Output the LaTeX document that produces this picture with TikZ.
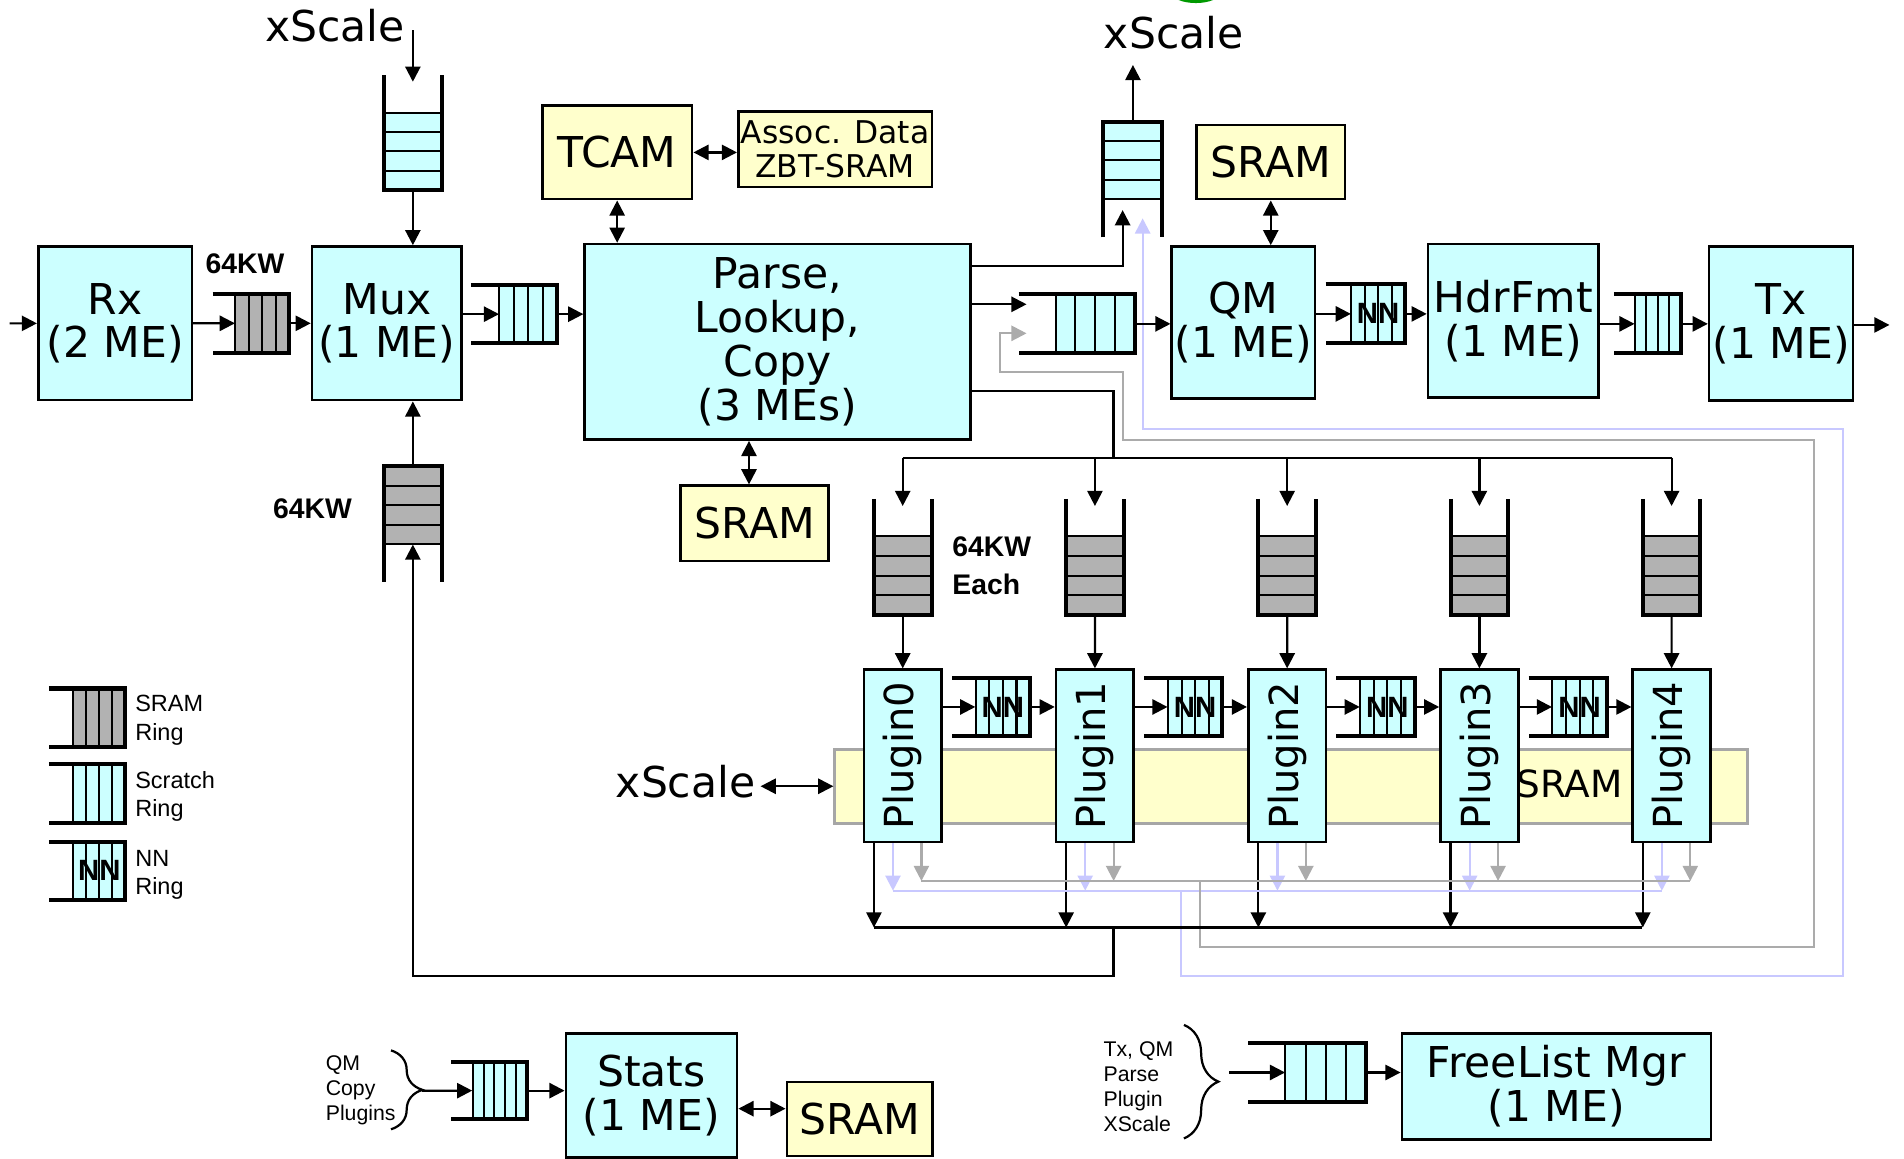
\documentclass[tikz,border=0pt]{standalone}
\usepackage{fontspec}
\usepackage{graphicx}
\setmainfont{DejaVu Sans}
\newfontfamily\arialf{Liberation Sans}
\usetikzlibrary{arrows.meta,decorations.pathreplacing,fit,backgrounds}
\definecolor{cyanbox}{HTML}{CCFFFF}
\definecolor{yelbox}{HTML}{FFFFCC}
\definecolor{ringgray}{HTML}{B2B2B2}
\definecolor{lav}{HTML}{C8C8FF}
\definecolor{lgray}{HTML}{ABABAB}
\definecolor{bandedge}{HTML}{A6A6A6}
\newcommand\bigf{\fontsize{21}{21.6}\selectfont}
\newcommand\midf{\fontsize{15.5}{16.5}\selectfont}
\newcommand\plf{\fontsize{19.8}{21}\selectfont}
\newcommand\bandf{\fontsize{18.5}{20}\selectfont}
\newcommand\kwf{\arialf\bfseries\fontsize{14}{16}\selectfont}
\newcommand\legf{\arialf\fontsize{11.6}{14}\selectfont}
\newcommand\smallf{\arialf\fontsize{10.5}{12.6}\selectfont}
\newcommand\nnf{\arialf\bfseries\fontsize{14.5}{15}\selectfont}
\tikzset{
  box/.style={draw=black, line width=1.3pt, inner sep=0pt, align=center, font=\bigf},
  cbox/.style={box, fill=cyanbox},
  ybox/.style={box, fill=yelbox},
  bandbox/.style={fill=yelbox, draw=bandedge, line width=1.3pt, inner sep=0pt},
  conn/.style={line width=1.1pt},
  arr/.style={conn, ->},
  darr/.style={conn, <->},
  garr/.style={conn, ->, lgray},
  gline/.style={conn, lgray},
  larr/.style={conn, ->, lav},
  lline/.style={conn, lav},
  rail/.style={line width=2pt, line join=miter},
  divl/.style={line width=1pt},
  lbl/.style={inner sep=0pt, font=\bigf},
  kw/.style={inner sep=0pt, font=\kwf},
  legt/.style={inner sep=0pt, font=\legf},
  smt/.style={inner sep=0pt, font=\smallf},
  nnt/.style={inner sep=0pt, font=\nnf},
  brc/.style={conn, decorate, decoration={brace, amplitude=#1}},
}
% box from corners: name, x1, y1, x2, y2, style, text
\newcommand\bx[7]{%
  \node[#6, minimum width={((#4)-(#2))*0.6pt}, minimum height={((#5)-(#3))*0.6pt}]
    (#1) at ({((#2)+(#4))/2},{((#3)+(#5))/2}) {#7};}
% horizontal ring: name, xopen, xclosed, xcell, ytop, ybot, n, fill
\newcommand\hring[8]{%
  \fill[#8] (#4,#5) rectangle (#3,#6);
  \foreach \k in {0,...,#7}{\pgfmathsetmacro\rpos{(#4)+((#3)-(#4))*\k/#7}\draw[divl] (\rpos,#5) -- (\rpos,#6);}
  \draw[rail] (#2,#5) -- (#3,#5) -- (#3,#6) -- (#2,#6);
  \coordinate (#1-a) at (#4,#5); \coordinate (#1-b) at (#3,#6);
  \node[fit=(#1-a)(#1-b), inner sep=0pt] (#1) {};}
% vertical ring: name, xl, xr, yopen, yclosed, ycell, n, fill
\newcommand\vring[8]{%
  \fill[#8] (#2,#6) rectangle (#3,#5);
  \foreach \k in {0,...,#7}{\pgfmathsetmacro\rpos{(#6)+((#5)-(#6))*\k/#7}\draw[divl] (#2,\rpos) -- (#3,\rpos);}
  \draw[rail] (#2,#4) -- (#2,#5) -- (#3,#5) -- (#3,#4);
  \coordinate (#1-a) at (#2,#6); \coordinate (#1-b) at (#3,#5);
  \node[fit=(#1-a)(#1-b), inner sep=0pt] (#1) {};}
\begin{document}
\begin{tikzpicture}[x=0.6pt,y=-0.6pt,>={Triangle[length=7.5pt,width=7.5pt]}]
\useasboundingbox (0,0) rectangle (1568,954);
\fill[green!60!black] (984.8,-6) ellipse [x radius=20, y radius=8.5];

\begin{pgfonlayer}{background}
\bx{band}{687.4}{617}{1439}{678}{bandbox}{}
\node[anchor=base, inner sep=0pt, font=\bandf] (bandt) at (1292.5,656.5) {SRAM};
\end{pgfonlayer}

% ---------- rings ----------
\hring{r1}{175}{238}{193.8}{242}{290.5}{4}{ringgray}
\hring{r2}{387.7}{458.6}{411.3}{234.7}{282.7}{4}{cyanbox}
\hring{r3}{838.8}{934.4}{869.3}{242.4}{291}{4}{cyanbox}
\hring{r4}{1091.7}{1157}{1112.8}{234.2}{282.8}{4}{cyanbox}
\node[nnt] (r4t) at (r4) {NN};
\hring{r5}{1329}{1384.3}{1346.4}{242.4}{291}{4}{cyanbox}
\hring{lg1}{40.2}{103}{60.5}{567}{615.4}{4}{ringgray}
\hring{lg2}{40.2}{103}{60.5}{629.2}{678}{4}{cyanbox}
\hring{lg3}{40.2}{103}{60.5}{693.1}{741.2}{4}{cyanbox}
\node[nnt] (lg3t) at (lg3) {NN};
\hring{rs}{371.8}{434.2}{389.2}{874.8}{921.5}{5}{cyanbox}
\hring{rf}{1028}{1125}{1058.6}{859.2}{907.2}{4}{cyanbox}
\vring{v1}{316}{364}{61.8}{156.5}{92.8}{4}{cyanbox}
\vring{v2}{316}{364}{479}{384}{448.1}{4}{ringgray}
\vring{v3}{908.7}{956.8}{195.4}{100.2}{164.1}{4}{cyanbox}

% ---------- boxes ----------
\bx{rx}{31.5}{203}{158}{329.5}{cbox}{Rx\\(2 ME)}
\bx{mux}{257}{203}{380}{329.5}{cbox}{Mux\\(1 ME)}
\bx{parse}{481.5}{201}{799}{362}{cbox}{Parse,\\Lookup,\\Copy\\(3 MEs)}
\bx{tcam}{446.5}{87}{570}{164}{ybox}{TCAM}
\bx{assoc}{608}{92}{767.5}{154}{ybox,font=\midf}{Assoc. Data\\ZBT-SRAM}
\bx{sramp}{560.5}{400}{682.5}{462}{ybox}{SRAM}
\bx{sramq}{985.5}{103}{1107.5}{164}{ybox}{SRAM}
\bx{qm}{965}{203}{1083}{328}{cbox}{QM\\(1 ME)}
\bx{hdr}{1176}{201}{1316.5}{327.5}{cbox}{HdrFmt\\(1 ME)}
\bx{tx}{1407.5}{203}{1526}{330}{cbox}{Tx\\(1 ME)}
\bx{stats}{466}{851}{607}{953}{cbox}{Stats\\(1 ME)}
\bx{srams}{648}{891}{768}{952}{ybox}{SRAM}
\bx{flm}{1154.5}{851}{1409}{938.5}{cbox}{FreeList Mgr\\(1 ME)}

\foreach \i in {0,...,4}{
  \pgfmathsetmacro\Lx{711.4+158.3*\i}
  \pgfmathsetmacro\Rgt{\Lx+64}
  \pgfmathsetmacro\qa{\Lx+32-23.75}
  \pgfmathsetmacro\qb{\Lx+32+23.75}
  \bx{p\i}{\Lx}{551.5}{\Rgt}{693.5}{cbox,font=\plf}{\rotatebox{90}{Plugin\i}}
  \vring{q\i}{\qa}{\qb}{410.8}{506.5}{441.7}{4}{ringgray}
}
\foreach \i in {0,...,3}{
  \pgfmathsetmacro\na{784+158.3*\i}
  \pgfmathsetmacro\nb{848.3+158.3*\i}
  \pgfmathsetmacro\nc{803.5+158.3*\i}
  \hring{nn\i}{\na}{\nb}{\nc}{558}{606.4}{4}{cyanbox}
  \node[nnt] (nnt\i) at (nn\i) {NN};
}

% ---------- labels ----------
\node[lbl, anchor=base] (xs1) at (276,34.3) {xScale};
\node[lbl, anchor=base] (xs2) at (966.5,39.8) {xScale};
\node[lbl, anchor=base, inner xsep=2.4pt] (xs3) at (564.6,656.5) {xScale};
\node[kw, anchor=base] (kw1) at (201.7,225) {64KW};
\node[kw, anchor=base] (kw2) at (257.3,427) {64KW};
\node[kw, anchor=base west] (kw3) at (784,457.9) {64KW};
\node[kw, anchor=base west] (kw4) at (784,489.4) {Each};
\node[legt, anchor=base west] (lt1) at (111.1,586.1) {SRAM};
\node[legt, anchor=base west] (lt2) at (111.1,609.4) {Ring};
\node[legt, anchor=base west] (lt3) at (111.1,649.2) {Scratch};
\node[legt, anchor=base west] (lt4) at (111.1,672.5) {Ring};
\node[legt, anchor=base west] (lt5) at (111.1,713.7) {NN};
\node[legt, anchor=base west] (lt6) at (111.1,736.5) {Ring};
\node[smt, anchor=base west] (sq1) at (268,881.5) {QM};
\node[smt, anchor=base west] (sq2) at (268,902) {Copy};
\node[smt, anchor=base west] (sq3) at (268,922.5) {Plugins};
\node[smt, anchor=base west] (fq1) at (908.5,870) {Tx, QM};
\node[smt, anchor=base west] (fq2) at (908.5,890.5) {Parse};
\node[smt, anchor=base west] (fq3) at (908.5,911) {Plugin};
\node[smt, anchor=base west] (fq4) at (908.5,931.5) {XScale};

\coordinate (inpt) at (7.9,266.3);
\coordinate (outpt) at (1556,267.6);
\coordinate (xs1a) at (340,25);
\coordinate (bbus) at (917,763.8);
\coordinate (bq) at (347.5,898.2);
\coordinate (bf) at (1012.4,883.2);

% ---------- connectors ----------
\begin{pgfonlayer}{background}
\foreach \i in {0,...,4}{
  \pgfmathsetmacro\gx{711.4+158.3*\i+47.4}
  \pgfmathsetmacro\lx{711.4+158.3*\i+24}
  \pgfmathsetmacro\bxx{711.4+158.3*\i+8.3}
  \pgfmathsetmacro\cx{711.4+158.3*\i+32}
  \draw[garr] (p\i.south -| \gx,0) -- (\gx,725.5);
  \draw[larr] (p\i.south -| \lx,0) -- (\lx,733.5);
  \draw[arr] (p\i.south -| \bxx,0) -- (\bxx,763.8);
  \draw[arr] (\cx,377.1) -- (\cx,416.7);
  \draw[arr] (q\i.south) -- (p\i.north);
}
\draw[gline] (758.8,725.5) -- (1391.5,725.5);
\draw[lline] (735.4,733.5) -- (1368.6,733.5);
\draw[garr] (987.9,725.5) -- (987.9,780) -- (1493.7,780) -- (1493.7,362.3) -- (924.6,362.3)
  -- (924.6,306.1) -- (823.4,306.1) -- (823.4,274.5) -- (845.4,274.5);
\draw[larr] (972.3,733.5) -- (972.3,803.5) -- (1517.7,803.5) -- (1517.7,353.6) -- (941,353.6) -- (941,179.8);

\draw[arr] (inpt) -- (rx);
\draw[arr] (rx) -- (r1.west);
\draw[arr] (r1.east) -- (mux.west |- r1.east);
\draw[arr] (xs1a) -- (340,67.3);
\draw[arr] (v1.south) -- (v1.south |- mux.north);
\draw[arr] (mux.east |- r2.west) -- (r2.west);
\draw[arr] (r2.east) -- (parse.west |- r2.east);
\draw[darr] (tcam.south) -- (tcam.south |- parse.north);
\draw[darr] (tcam.east) -- (assoc.west |- tcam.east);
\draw[darr] (parse.south -| 616.8,0) -- (sramp.north -| 616.8,0);
\draw[arr] (parse.east |- 0,219.1) -- (924.5,219.1) -- (924.5,173);
\draw[arr] (v3.north -| 933,0) -- (933,53.5);
\draw[arr] (parse.east |- 0,250.6) -- (845.4,250.6);
\draw[arr] (r3.east) -- (qm.west |- r3.east);
\draw[darr] (sramq.south) -- (sramq.south |- qm.north);
\draw[arr] (qm.east |- r4.west) -- (r4.west);
\draw[arr] (r4.east) -- (hdr.west |- r4.east);
\draw[arr] (hdr.east |- r5.west) -- (r5.west);
\draw[arr] (r5.east) -- (tx.west |- r5.east);
\draw[arr] (tx.east |- outpt) -- (outpt);
\draw[conn] (parse.east |- 0,321.7) -- (917,321.7) -- (917,377.1);
\draw[conn] (743.4,377.1) -- (1376.6,377.1);
\foreach \i in {0,...,3}{
  \pgfmathtruncatemacro\j{\i+1}
  \draw[arr] (p\i.east |- nn\i.west) -- (nn\i.west);
  \draw[arr] (nn\i.east) -- (p\j.west |- nn\i.east);
}
\draw[darr] (xs3.east |- band.west) -- (band.west);
\draw[conn] (719.7,763.8) -- (1352.6,763.8);
\draw[arr] (bbus) -- (917,803.5) -- (v2.south |- 0,803.5) -- (v2.south);
\draw[arr] (v2.north) -- (v2.north |- mux.south);

\draw[brc=15.5pt] (322,865) -- (322,930);
\draw[arr] (bq) -- (rs.west);
\draw[arr] (rs.east) -- (stats.west |- rs.east);
\draw[darr] (stats.east |- 0,913) -- (srams.west |- 0,913);
\draw[brc=17pt] (975,844) -- (975,937.5);
\draw[arr] (bf) -- (rf.west);
\draw[arr] (rf.east) -- (flm.west |- rf.east);
\end{pgfonlayer}
\end{tikzpicture}
\end{document}
